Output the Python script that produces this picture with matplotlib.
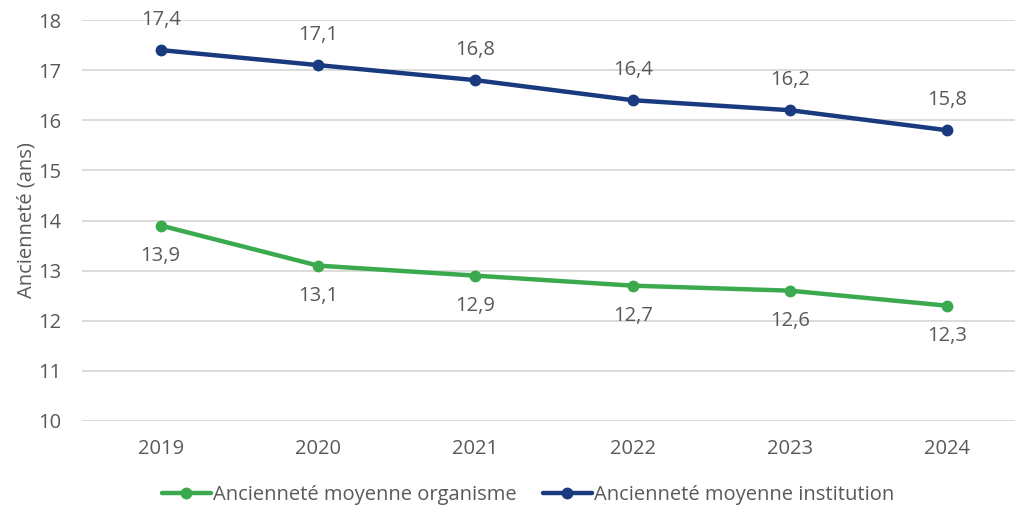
import matplotlib
matplotlib.use("Agg")
import matplotlib.pyplot as plt

# Data
years = ["2019", "2020", "2021", "2022", "2023", "2024"]
organisme = [13.9, 13.1, 12.9, 12.7, 12.6, 12.3]
institution = [17.4, 17.1, 16.8, 16.4, 16.2, 15.8]

green = "#3BAA4F"
navy = "#1A3A7F"
txt = "#595959"

plt.rcParams["font.family"] = ["Open Sans", "DejaVu Sans"]
fs = 14.5

fig = plt.figure(figsize=(10.15, 5.07), dpi=100)
ax = fig.add_axes([82 / 1015, 86 / 507, 933 / 1015, 401 / 507])

x = list(range(len(years)))
ax.plot(x, organisme, color=green, lw=3.2, marker="o", ms=7.5,
        label="Ancienneté moyenne organisme", solid_capstyle="round")
ax.plot(x, institution, color=navy, lw=3.2, marker="o", ms=7.5,
        label="Ancienneté moyenne institution", solid_capstyle="round")

for xi, v in zip(x, institution):
    ax.annotate(f"{v:.1f}".replace(".", ","), (xi, v), xytext=(0, 22),
                textcoords="offset points", ha="center", va="center",
                fontsize=fs, color=txt)
for xi, v in zip(x, organisme):
    ax.annotate(f"{v:.1f}".replace(".", ","), (xi, v), xytext=(0, -22),
                textcoords="offset points", ha="center", va="center",
                fontsize=fs, color=txt)

ax.set_ylim(10, 18)
ax.set_xlim(-0.5, 5.43)
ax.set_yticks(range(10, 19))
ax.set_xticks(x)
ax.set_xticklabels(years)
ax.tick_params(axis="both", length=0, labelsize=fs, labelcolor=txt)
ax.tick_params(axis="x", pad=13)
ax.tick_params(axis="y", pad=15)
ax.grid(axis="y", color="#D9D9D9", lw=1.3)
ax.set_axisbelow(True)
for s in ax.spines.values():
    s.set_visible(False)
ax.set_ylabel("Ancienneté (ans)", fontsize=fs, color=txt, labelpad=1)

ax.legend(loc="center", bbox_to_anchor=(528 / 1015, 12 / 507),
          bbox_transform=fig.transFigure, ncol=2, frameon=False,
          fontsize=fs, labelcolor=txt, handlelength=2.45,
          handletextpad=0.1, columnspacing=1.3)

fig.savefig("out.png", dpi=100)
